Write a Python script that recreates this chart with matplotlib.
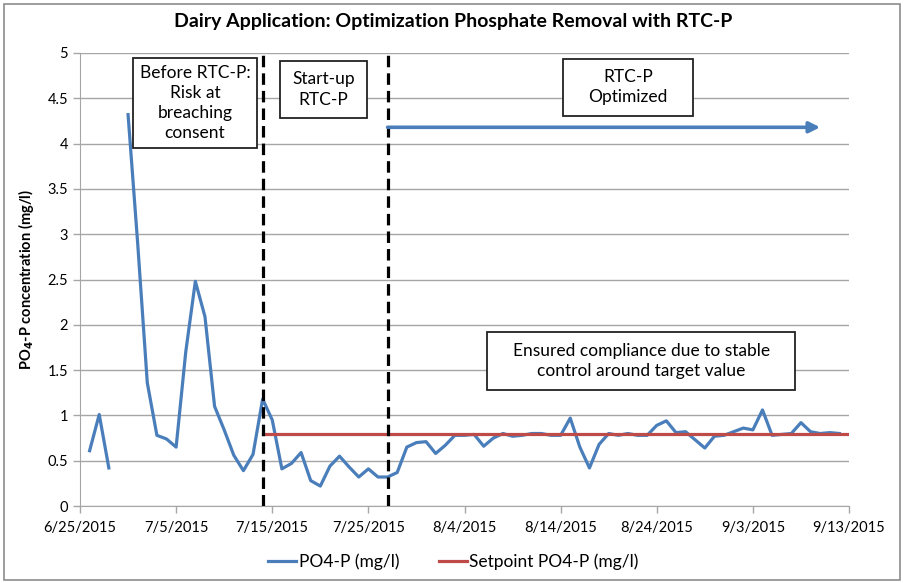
import numpy as np
import pandas as pd
import matplotlib
matplotlib.use("Agg")
import matplotlib.pyplot as plt
import matplotlib.dates as mdates
from matplotlib.patches import Rectangle

plt.rcParams['font.family'] = ['Lato', 'DejaVu Sans']

# data (one value per day, starting 6/26/2015)
po4_start = "2015-06-26"
po4_values = [0.61, 1.01, 0.42, np.nan, 4.32, 2.90, 1.36, 0.78, 0.74, 0.65,
              1.70, 2.48, 2.09, 1.10, 0.84, 0.56, 0.39, 0.57, 1.18, 0.95,
              0.41, 0.47, 0.59, 0.28, 0.22, 0.44, 0.55, 0.43, 0.32, 0.41,
              0.32, 0.32, 0.37, 0.65, 0.70, 0.71, 0.58, 0.67, 0.78, 0.78,
              0.79, 0.66, 0.75, 0.80, 0.77, 0.78, 0.80, 0.80, 0.78, 0.78,
              0.97, 0.65, 0.42, 0.68, 0.80, 0.78, 0.80, 0.78, 0.78, 0.89,
              0.94, 0.81, 0.82, 0.73, 0.64, 0.77, 0.78, 0.82, 0.86, 0.84,
              1.06, 0.78, 0.79, 0.80, 0.92, 0.82, 0.80, 0.81, 0.80]
setpoint_dates = ["2015-07-14", "2015-09-13"]
setpoint_values = [0.8, 0.8]
phase_dates = ["2015-07-14", "2015-07-27"]
arrow_dates = ["2015-07-27", "2015-09-10"]
arrow_level = 4.18
tick_dates = ["2015-06-25", "2015-07-05", "2015-07-15", "2015-07-25", "2015-08-04",
              "2015-08-14", "2015-08-24", "2015-09-03", "2015-09-13"]
y_ticks = [0, 0.5, 1, 1.5, 2, 2.5, 3, 3.5, 4, 4.5, 5]
y_tick_labels = ["0", "0.5", "1", "1.5", "2", "2.5", "3", "3.5", "4", "4.5", "5"]

blue = '#4a7ebb'
red = '#be4b48'
grid_c = '#a6a6a6'

po4_dates = pd.date_range(po4_start, periods=len(po4_values), freq='D')
ticks = pd.to_datetime(tick_dates)

fig = plt.figure(figsize=(9.07, 5.83), dpi=100)
ax = fig.add_axes([80 / 907, 1 - 506 / 583, 769 / 907, 453 / 583])

ax.plot(po4_dates, po4_values, color=blue, lw=2.3, label='PO4-P (mg/l)', zorder=3)
ax.plot(pd.to_datetime(setpoint_dates), setpoint_values, color=red, lw=2.3,
        label='Setpoint PO4-P (mg/l)', zorder=3)

for d in pd.to_datetime(phase_dates):
    ax.axvline(d, color='black', lw=2.3, dashes=(3.6, 1.9), zorder=4)

a0, a1 = pd.to_datetime(arrow_dates)
ax.annotate('', xy=(a1, arrow_level), xytext=(a0, arrow_level),
            arrowprops=dict(arrowstyle='-|>', color=blue, lw=2.6,
                            mutation_scale=16, shrinkA=0, shrinkB=0), zorder=4)

ax.set_xlim(ticks[0], ticks[-1])
ax.set_ylim(0, 5)
ax.set_xticks(ticks)
ax.set_xticklabels([f"{d.month}/{d.day}/{d.year}" for d in ticks], fontsize=10.5)
ax.set_yticks(y_ticks)
ax.set_yticklabels(y_tick_labels, fontsize=10.5)
ax.grid(axis='y', color=grid_c, lw=1)
ax.set_axisbelow(True)
for s in ['top', 'right']:
    ax.spines[s].set_visible(False)
for s in ['left', 'bottom']:
    ax.spines[s].set_color(grid_c)
ax.tick_params(axis='both', direction='out', length=5, color=grid_c, width=1)
ax.tick_params(axis='x', pad=6)
ax.set_ylabel('PO$_\\mathbf{4}$-P concentration (mg/l)', fontsize=10.5,
              fontweight='bold', labelpad=8)

# annotation boxes (axes fractions)
boxes = [
    ("Before RTC-P:\nRisk at\nbreaching\nconsent", 0.0689, 0.790, 0.1613, 0.199),
    ("Start-up\nRTC-P", 0.2601, 0.856, 0.1127, 0.127),
    ("RTC-P\nOptimized", 0.6285, 0.8616, 0.1682, 0.1252),
    ("Ensured compliance due to stable\ncontrol around target value",
     0.5297, 0.2561, 0.4001, 0.1273),
]
for txt, x0, y0, w, h in boxes:
    ax.add_patch(Rectangle((x0, y0), w, h, transform=ax.transAxes,
                           facecolor='white', edgecolor='#222222', lw=1.3, zorder=5))
    ax.text(x0 + w / 2, y0 + h / 2, txt, transform=ax.transAxes, ha='center',
            va='center', fontsize=12.5, linespacing=1.33, zorder=6)

fig.text(0.5, 1 - 22 / 583, 'Dairy Application: Optimization Phosphate Removal with RTC-P',
         ha='center', va='center', fontsize=14, fontweight='bold')

fig.legend(loc='center', bbox_to_anchor=(0.5, 1 - 562 / 583), ncol=2, frameon=False,
           fontsize=12.5, handlelength=1.6, handletextpad=0.15, columnspacing=2.3)

fig.patches.append(Rectangle((4 / 907, 3 / 583), 896 / 907, 576 / 583,
                             transform=fig.transFigure, fill=False,
                             edgecolor='#8c8c8c', lw=1.2))

fig.savefig('out.png', dpi=100)
